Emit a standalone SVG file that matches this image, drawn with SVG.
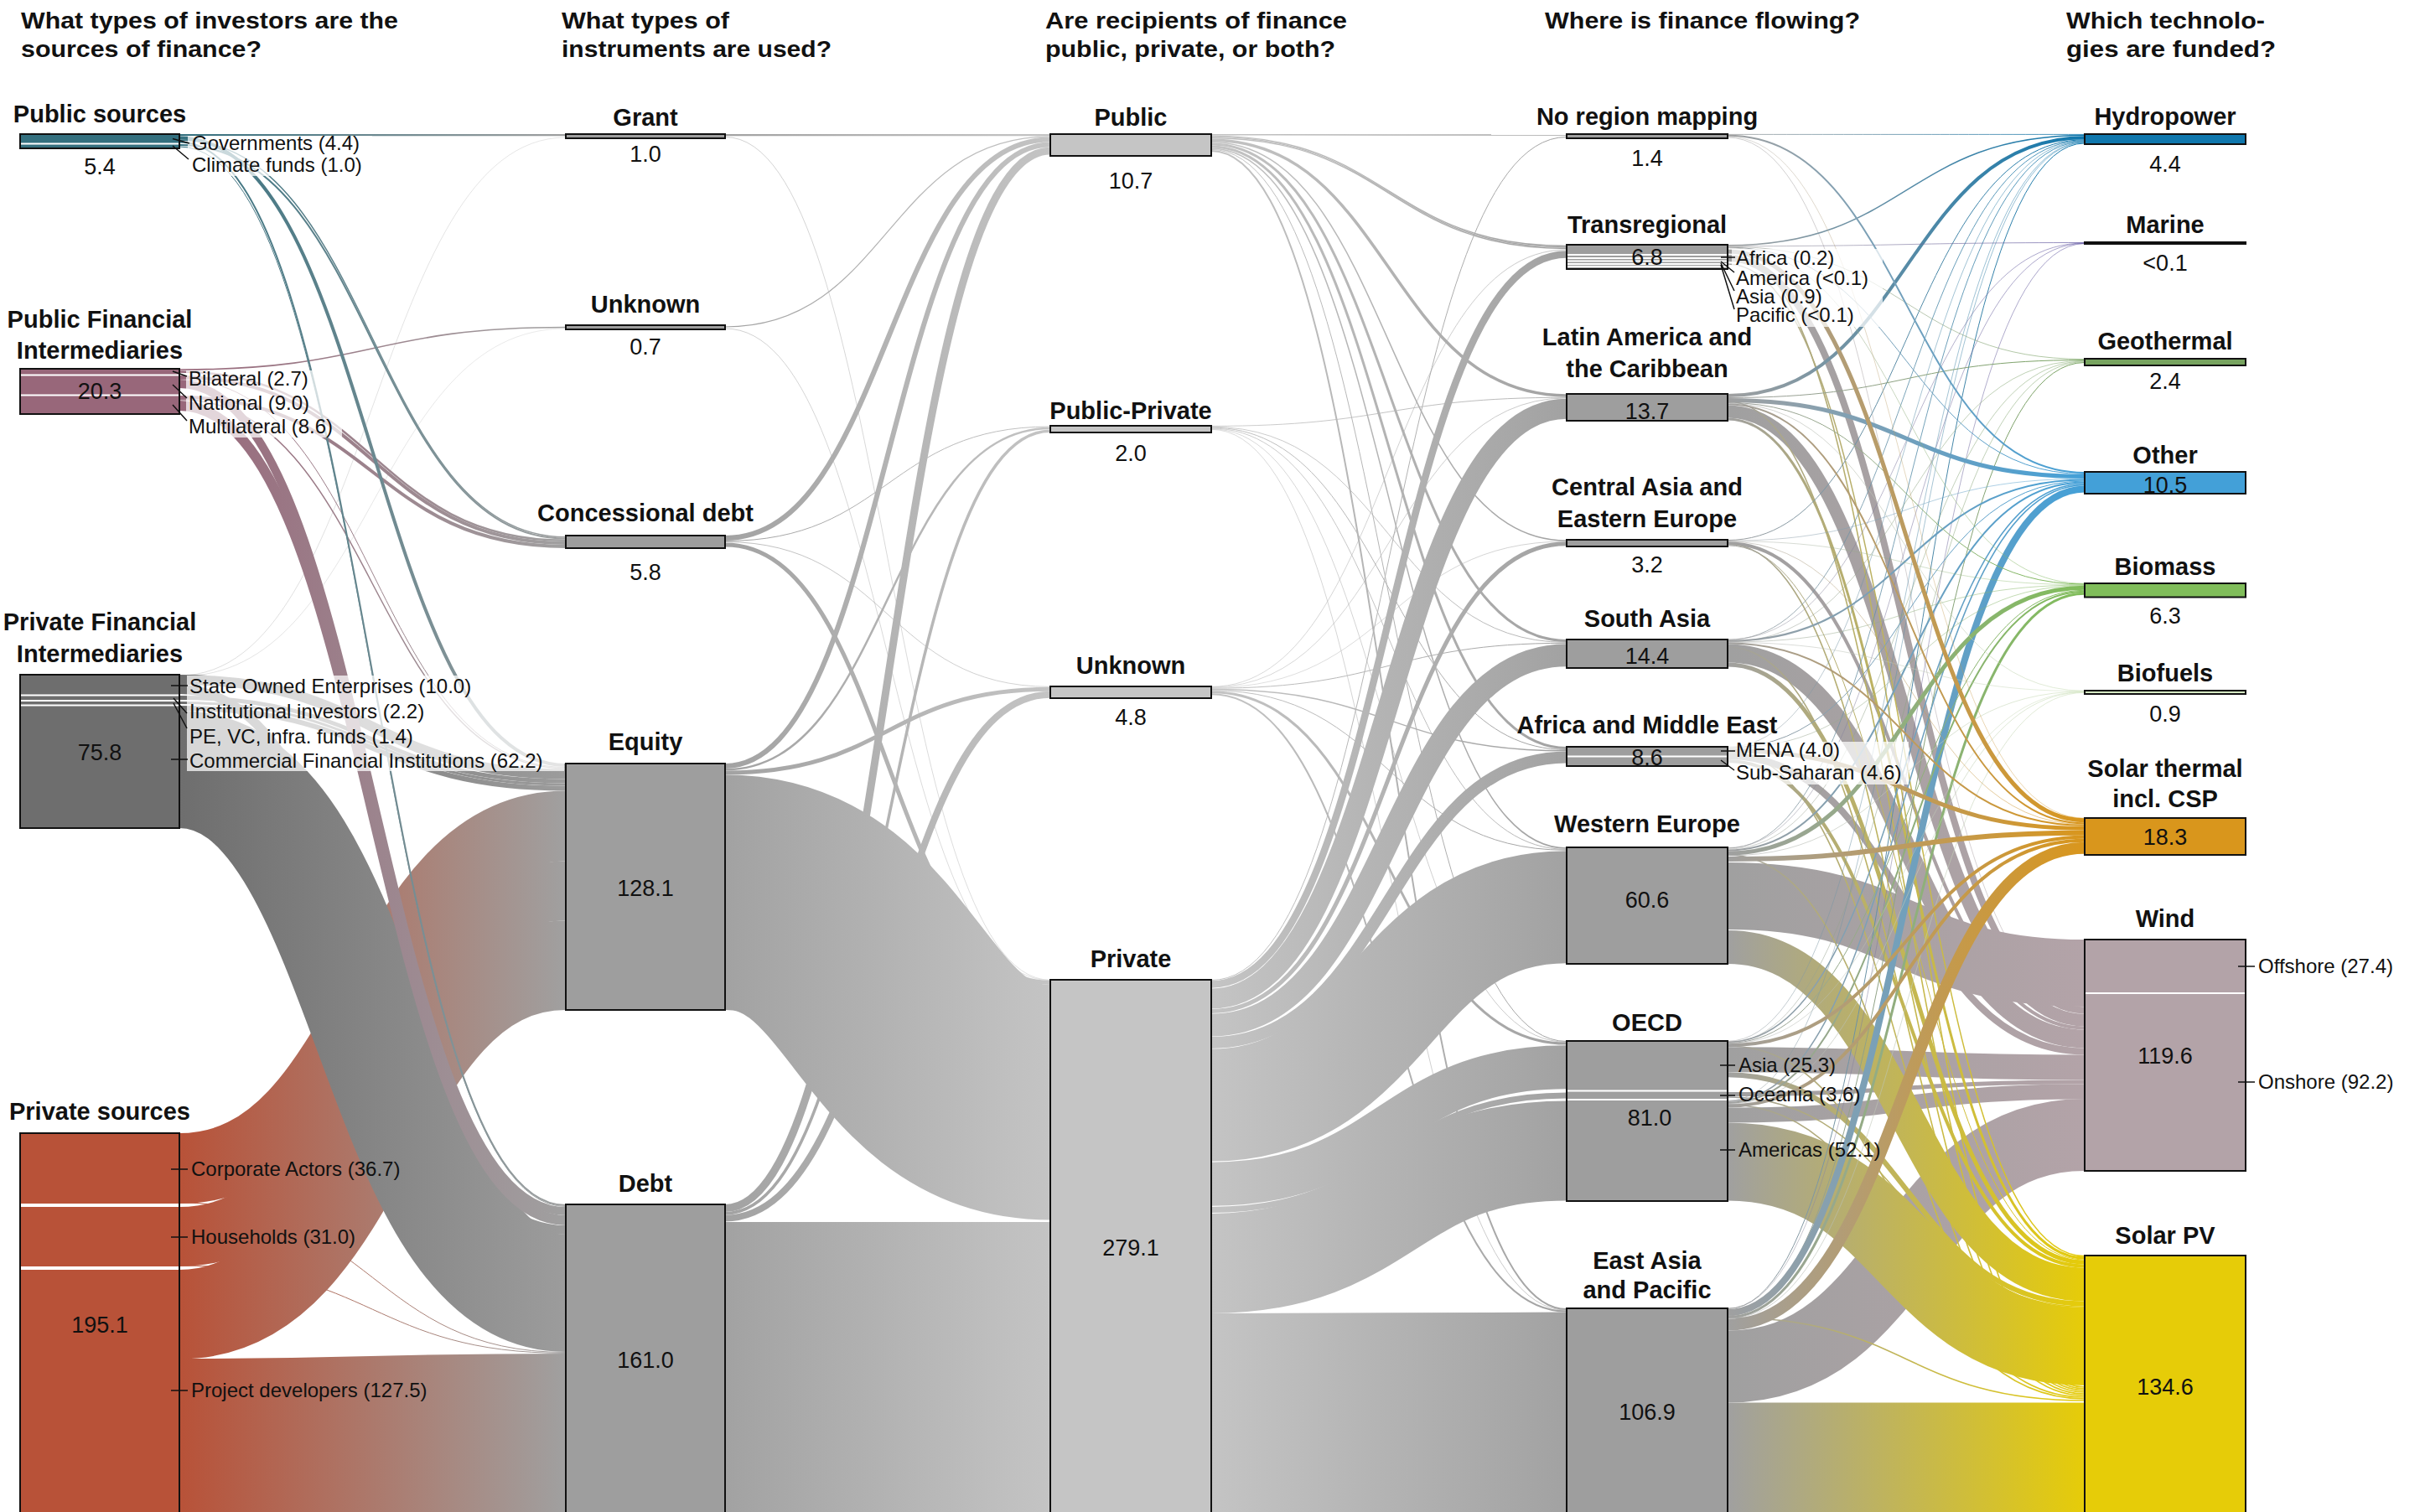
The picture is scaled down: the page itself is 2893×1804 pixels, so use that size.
<svg xmlns="http://www.w3.org/2000/svg" width="2893" height="1804" viewBox="0 0 2893 1804">
<style>
.l{fill:none}
.t{stroke:url(#gT)}.m{stroke:url(#gMv)}.d{stroke:url(#gD)}.r{stroke:url(#gR)}
.k2{stroke:url(#g2)}.k3{stroke:url(#g3)}
.wH{stroke:url(#gH)}.wM{stroke:url(#gM)}.wG{stroke:url(#gG)}.wO{stroke:url(#gO)}.wB{stroke:url(#gB)}.wF{stroke:url(#gF)}.wS{stroke:url(#gS)}.wW{stroke:url(#gW)}.wP{stroke:url(#gP)}
.hdr{font-family:"Liberation Sans",Arial,sans-serif;font-weight:bold;font-size:27px;fill:#111}
.ttl{font-family:"Liberation Sans",Arial,sans-serif;font-weight:bold;font-size:29px;fill:#111;text-anchor:middle}
.val{font-family:"Liberation Sans",Arial,sans-serif;font-size:27px;fill:#111;text-anchor:middle}
.sub{font-family:"Liberation Sans",Arial,sans-serif;font-size:24px;fill:#111}
.box{stroke:#111;stroke-width:2}
.sep{stroke:#fff;stroke-width:2}
.ld{stroke:#111;stroke-width:1.5;fill:none}
.bg{fill:#fff;fill-opacity:.72}
</style>
<defs>
<linearGradient id="gT" gradientUnits="userSpaceOnUse" x1="214" y1="0" x2="675" y2="0"><stop offset="0" stop-color="#34707f"/><stop offset="1" stop-color="#a0a0a0"/></linearGradient>
<linearGradient id="gMv" gradientUnits="userSpaceOnUse" x1="214" y1="0" x2="675" y2="0"><stop offset="0" stop-color="#98677a"/><stop offset="1" stop-color="#a0a0a0"/></linearGradient>
<linearGradient id="gD" gradientUnits="userSpaceOnUse" x1="214" y1="0" x2="675" y2="0"><stop offset="0" stop-color="#6e6e6e"/><stop offset="1" stop-color="#9c9c9c"/></linearGradient>
<linearGradient id="gR" gradientUnits="userSpaceOnUse" x1="214" y1="0" x2="675" y2="0"><stop offset="0" stop-color="#b85238"/><stop offset="1" stop-color="#a0a0a0"/></linearGradient>
<linearGradient id="g2" gradientUnits="userSpaceOnUse" x1="865" y1="0" x2="1253" y2="0"><stop offset="0" stop-color="#a2a2a2"/><stop offset="1" stop-color="#c4c4c4"/></linearGradient>
<linearGradient id="g3" gradientUnits="userSpaceOnUse" x1="1445" y1="0" x2="1869" y2="0"><stop offset="0" stop-color="#c4c4c4"/><stop offset="1" stop-color="#a2a2a2"/></linearGradient>
<linearGradient id="gH" gradientUnits="userSpaceOnUse" x1="2061" y1="0" x2="2487" y2="0"><stop offset="0" stop-color="#a0a0a0"/><stop offset="1" stop-color="#0f77ad"/></linearGradient>
<linearGradient id="gM" gradientUnits="userSpaceOnUse" x1="2061" y1="0" x2="2487" y2="0"><stop offset="0" stop-color="#a0a0a0"/><stop offset="1" stop-color="#4b3f95"/></linearGradient>
<linearGradient id="gG" gradientUnits="userSpaceOnUse" x1="2061" y1="0" x2="2487" y2="0"><stop offset="0" stop-color="#a0a0a0"/><stop offset="1" stop-color="#77a35f"/></linearGradient>
<linearGradient id="gO" gradientUnits="userSpaceOnUse" x1="2061" y1="0" x2="2487" y2="0"><stop offset="0" stop-color="#a0a0a0"/><stop offset="1" stop-color="#43a0d8"/></linearGradient>
<linearGradient id="gB" gradientUnits="userSpaceOnUse" x1="2061" y1="0" x2="2487" y2="0"><stop offset="0" stop-color="#a0a0a0"/><stop offset="1" stop-color="#80bd5a"/></linearGradient>
<linearGradient id="gF" gradientUnits="userSpaceOnUse" x1="2061" y1="0" x2="2487" y2="0"><stop offset="0" stop-color="#b0b0b0"/><stop offset="1" stop-color="#cfe3bd"/></linearGradient>
<linearGradient id="gS" gradientUnits="userSpaceOnUse" x1="2061" y1="0" x2="2487" y2="0"><stop offset="0" stop-color="#a0a0a0"/><stop offset="1" stop-color="#d9961c"/></linearGradient>
<linearGradient id="gW" gradientUnits="userSpaceOnUse" x1="2061" y1="0" x2="2487" y2="0"><stop offset="0" stop-color="#a0a0a0"/><stop offset="1" stop-color="#b3a3a8"/></linearGradient>
<linearGradient id="gP" gradientUnits="userSpaceOnUse" x1="2061" y1="0" x2="2487" y2="0"><stop offset="0" stop-color="#a0a0a0"/><stop offset="1" stop-color="#e6cc08"/></linearGradient>
</defs>
<rect width="2893" height="1804" fill="#fff"/>

<g id="headers">
<text class="hdr" x="25" y="34" textLength="450" lengthAdjust="spacingAndGlyphs">What types of investors are the</text>
<text class="hdr" x="25" y="68" textLength="287" lengthAdjust="spacingAndGlyphs">sources of finance?</text>
<text class="hdr" x="670" y="34" textLength="200" lengthAdjust="spacingAndGlyphs">What types of</text>
<text class="hdr" x="670" y="68" textLength="322" lengthAdjust="spacingAndGlyphs">instruments are used?</text>
<text class="hdr" x="1247" y="34" textLength="360" lengthAdjust="spacingAndGlyphs">Are recipients of finance</text>
<text class="hdr" x="1247" y="68" textLength="346" lengthAdjust="spacingAndGlyphs">public, private, or both?</text>
<text class="hdr" x="1843" y="34" textLength="376" lengthAdjust="spacingAndGlyphs">Where is finance flowing?</text>
<text class="hdr" x="2465" y="34" textLength="237" lengthAdjust="spacingAndGlyphs">Which technolo-</text>
<text class="hdr" x="2465" y="68" textLength="250" lengthAdjust="spacingAndGlyphs">gies are funded?</text>
</g>

<g id="connectors">
<!-- sources to instruments -->
<path class="l r" stroke-width="84" d="M214,1394C444.5,1394 444.5,985.5 675,985.5"/>
<path class="l r" stroke-width="71" d="M214,1475.5C444.5,1475.5 444.5,1063 675,1063"/>
<path class="l r" stroke-width="106.5" d="M214,1568.25C444.5,1568.25 444.5,1151.75 675,1151.75"/>
<path class="l r" stroke-width="192" d="M214,1717C444.5,1717 444.5,1711 675,1711"/>
<path class="l r" stroke-width="1" d="M214,1435C444.5,1435 444.5,1613.5 675,1613.5"/>
<path class="l r" stroke-width="1" d="M214,1510C444.5,1510 444.5,1614.5 675,1614.5"/>
<path class="l d" stroke-width="12" d="M214,811C444.5,811 444.5,923.5 675,923.5"/>
<path class="l d" stroke-width="5" d="M214,832.5C444.5,832.5 444.5,932 675,932"/>
<path class="l d" stroke-width="3" d="M214,838.5C444.5,838.5 444.5,936 675,936"/>
<path class="l d" stroke-width="6" d="M214,845C444.5,845 444.5,940.5 675,940.5"/>
<path class="l d" stroke-width="11" d="M214,822.5C444.5,822.5 444.5,1467.5 675,1467.5"/>
<path class="l d" stroke-width="140" d="M214,918C444.5,918 444.5,1543 675,1543"/>
<path class="l d" stroke-width="0.6" stroke-opacity="0.4" d="M214,806C444.5,806 444.5,164 675,164"/>
<path class="l d" stroke-width="0.5" stroke-opacity="0.4" d="M214,807C444.5,807 444.5,392 675,392"/>
<path class="l m" stroke-width="1.6" d="M214,441C444.5,441 444.5,390.5 675,390.5"/>
<path class="l m" stroke-width="2.5" d="M214,443.5C444.5,443.5 444.5,644.75 675,644.75"/>
<path class="l m" stroke-width="4" d="M214,450C444.5,450 444.5,648 675,648"/>
<path class="l m" stroke-width="1" d="M214,452.5C444.5,452.5 444.5,915.5 675,915.5"/>
<path class="l m" stroke-width="10" d="M214,458C444.5,458 444.5,1445 675,1445"/>
<path class="l m" stroke-width="4" d="M214,474C444.5,474 444.5,652 675,652"/>
<path class="l m" stroke-width="1.5" d="M214,476.75C444.5,476.75 444.5,916.75 675,916.75"/>
<path class="l m" stroke-width="12" d="M214,484C444.5,484 444.5,1456 675,1456"/>
<path class="l t" stroke-width="2.3" d="M214,161.2C444.5,161.2 444.5,161.2 675,161.2"/>
<path class="l t" stroke-width="4" d="M214,164.5C444.5,164.5 444.5,913 675,913"/>
<path class="l t" stroke-width="1.5" d="M214,167.25C444.5,167.25 444.5,640.75 675,640.75"/>
<path class="l t" stroke-width="2" d="M214,169.5C444.5,169.5 444.5,1438 675,1438"/>
<path class="l t" stroke-width="2" d="M214,173C444.5,173 444.5,642.5 675,642.5"/>
<path class="l t" stroke-width="1" d="M214,175C444.5,175 444.5,1439.5 675,1439.5"/>
<!-- instruments to recipients -->
<path class="l k2" stroke-width="280.5" d="M865,1064.75C1059,1064.75 1059,1315.25 1253,1315.25"/>
<path class="l k2" stroke-width="349" d="M865,1632.5C1059,1632.5 1059,1632.5 1253,1632.5"/>
<path class="l k2" stroke-width="2.3" d="M865,161.2C1059,161.2 1059,161.2 1253,161.2"/>
<path class="l k2" stroke-width="0.5" d="M865,163.5C1059,163.5 1059,1169.25 1253,1169.25"/>
<path class="l k2" stroke-width="1.2" d="M865,390C1059,390 1059,162.9 1253,162.9"/>
<path class="l k2" stroke-width="0.5" d="M865,392C1059,392 1059,1169.75 1253,1169.75"/>
<path class="l k2" stroke-width="6" d="M865,642C1059,642 1059,166.5 1253,166.5"/>
<path class="l k2" stroke-width="1" d="M865,645.5C1059,645.5 1059,509 1253,509"/>
<path class="l k2" stroke-width="0.7" d="M865,646.5C1059,646.5 1059,819.35 1253,819.35"/>
<path class="l k2" stroke-width="5" d="M865,650C1059,650 1059,1172.5 1253,1172.5"/>
<path class="l k2" stroke-width="6" d="M865,914C1059,914 1059,172.5 1253,172.5"/>
<path class="l k2" stroke-width="2.5" d="M865,918.25C1059,918.25 1059,511 1253,511"/>
<path class="l k2" stroke-width="5" d="M865,922C1059,922 1059,822.2 1253,822.2"/>
<path class="l k2" stroke-width="9" d="M865,1441.5C1059,1441.5 1059,180 1253,180"/>
<path class="l k2" stroke-width="3.5" d="M865,1447.75C1059,1447.75 1059,514.25 1253,514.25"/>
<path class="l k2" stroke-width="8" d="M865,1453.5C1059,1453.5 1059,828.7 1253,828.7"/>
<!-- recipients to regions -->
<path class="l k3" stroke-width="243" d="M1445,1688.5C1657,1688.5 1657,1687.1 1869,1687.1"/>
<path class="l k3" stroke-width="119" d="M1445,1507.4C1657,1507.4 1657,1373 1869,1373"/>
<path class="l k3" stroke-width="7" d="M1445,1443.4C1657,1443.4 1657,1307 1869,1307"/>
<path class="l k3" stroke-width="52" d="M1445,1412.7C1657,1412.7 1657,1273.3 1869,1273.3"/>
<path class="l k3" stroke-width="134" d="M1445,1318.5C1657,1318.5 1657,1082.3 1869,1082.3"/>
<path class="l k3" stroke-width="14" d="M1445,1244C1657,1244 1657,903.5 1869,903.5"/>
<path class="l k3" stroke-width="27" d="M1445,1223C1657,1223 1657,781.8 1869,781.8"/>
<path class="l k3" stroke-width="5" d="M1445,1206.5C1657,1206.5 1657,648.75 1869,648.75"/>
<path class="l k3" stroke-width="24" d="M1445,1191.5C1657,1191.5 1657,487.7 1869,487.7"/>
<path class="l k3" stroke-width="8.5" d="M1445,1174.5C1657,1174.5 1657,303.5 1869,303.5"/>
<path class="l k3" stroke-width="1" d="M1445,1169.5C1657,1169.5 1657,163.5 1869,163.5"/>
<path class="l k3" stroke-width="1.5" d="M1445,160.75C1657,160.75 1657,161 1869,161"/>
<path class="l k3" stroke-width="1.3" d="M1445,162.15C1657,162.15 1657,293.5 1869,293.5"/>
<path class="l k3" stroke-width="1.3" d="M1445,163.45C1657,163.45 1657,295 1869,295"/>
<path class="l k3" stroke-width="1.3" d="M1445,164.75C1657,164.75 1657,296.5 1869,296.5"/>
<path class="l k3" stroke-width="3.5" d="M1445,167.15C1657,167.15 1657,472 1869,472"/>
<path class="l k3" stroke-width="1.5" d="M1445,169.65C1657,169.65 1657,645 1869,645"/>
<path class="l k3" stroke-width="3" d="M1445,171.9C1657,171.9 1657,764.5 1869,764.5"/>
<path class="l k3" stroke-width="3" d="M1445,174.9C1657,174.9 1657,892.5 1869,892.5"/>
<path class="l k3" stroke-width="1.5" d="M1445,177.15C1657,177.15 1657,1012 1869,1012"/>
<path class="l k3" stroke-width="1" d="M1445,178.4C1657,178.4 1657,1242.5 1869,1242.5"/>
<path class="l k3" stroke-width="2" d="M1445,179.9C1657,179.9 1657,1562 1869,1562"/>
<path class="l k3" stroke-width="0.8" d="M1445,508.4C1657,508.4 1657,474.2 1869,474.2"/>
<path class="l k3" stroke-width="0.8" d="M1445,509.2C1657,509.2 1657,766.4 1869,766.4"/>
<path class="l k3" stroke-width="1" d="M1445,510.1C1657,510.1 1657,894.5 1869,894.5"/>
<path class="l k3" stroke-width="0.8" d="M1445,511C1657,511 1657,1013.4 1869,1013.4"/>
<path class="l k3" stroke-width="0.6" d="M1445,511.7C1657,511.7 1657,1243.3 1869,1243.3"/>
<path class="l k3" stroke-width="0.6" d="M1445,512.3C1657,512.3 1657,1563.3 1869,1563.3"/>
<path class="l k3" stroke-width="0.6" d="M1445,819.3C1657,819.3 1657,298 1869,298"/>
<path class="l k3" stroke-width="0.6" d="M1445,819.9C1657,819.9 1657,474.9 1869,474.9"/>
<path class="l k3" stroke-width="0.5" d="M1445,820.45C1657,820.45 1657,646 1869,646"/>
<path class="l k3" stroke-width="1" d="M1445,821.2C1657,821.2 1657,767.3 1869,767.3"/>
<path class="l k3" stroke-width="1.5" d="M1445,822.45C1657,822.45 1657,895.75 1869,895.75"/>
<path class="l k3" stroke-width="1" d="M1445,823.7C1657,823.7 1657,1014.3 1869,1014.3"/>
<path class="l k3" stroke-width="3" d="M1445,825.7C1657,825.7 1657,1245.1 1869,1245.1"/>
<path class="l k3" stroke-width="2" d="M1445,828.2C1657,828.2 1657,1564.6 1869,1564.6"/>
<!-- regions to technologies: wind -->
<path class="l wW" stroke-width="80" d="M2061,1069C2274,1069 2274,1161 2487,1161"/>
<path class="l wW" stroke-width="0.5" d="M2061,164C2274,164 2274,1201.25 2487,1201.25"/>
<path class="l wW" stroke-width="8" d="M2061,308C2274,308 2274,1205.5 2487,1205.5"/>
<path class="l wW" stroke-width="15" d="M2061,491C2274,491 2274,1217 2487,1217"/>
<path class="l wW" stroke-width="4" d="M2061,648.3C2274,648.3 2274,1226.5 2487,1226.5"/>
<path class="l wW" stroke-width="22" d="M2061,779.6C2274,779.6 2274,1239.5 2487,1239.5"/>
<path class="l wW" stroke-width="8" d="M2061,902C2274,902 2274,1254.5 2487,1254.5"/>
<path class="l wW" stroke-width="30" d="M2061,1264.3C2274,1264.3 2274,1273.5 2487,1273.5"/>
<path class="l wW" stroke-width="5" d="M2061,1305.5C2274,1305.5 2274,1291 2487,1291"/>
<path class="l wW" stroke-width="18" d="M2061,1330.5C2274,1330.5 2274,1302.5 2487,1302.5"/>
<path class="l wW" stroke-width="86" d="M2061,1630.5C2274,1630.5 2274,1354 2487,1354"/>
<!-- solar PV -->
<path class="l wP" stroke-width="133.5" d="M2061,1740.25C2274,1740.25 2274,1740.25 2487,1740.25"/>
<path class="l wP" stroke-width="1.5" d="M2061,315C2274,315 2274,1498.75 2487,1498.75"/>
<path class="l wP" stroke-width="3" d="M2061,500C2274,500 2274,1501 2487,1501"/>
<path class="l wP" stroke-width="1" d="M2061,650.8C2274,650.8 2274,1503 2487,1503"/>
<path class="l wP" stroke-width="5" d="M2061,793.1C2274,793.1 2274,1506 2487,1506"/>
<path class="l wP" stroke-width="4" d="M2061,908C2274,908 2274,1510.5 2487,1510.5"/>
<path class="l wP" stroke-width="6" d="M2061,1282.3C2274,1282.3 2274,1555.5 2487,1555.5"/>
<path class="l wP" stroke-width="1.5" d="M2061,1309C2274,1309 2274,1559.25 2487,1559.25"/>
<path class="l wP" stroke-width="93" d="M2061,1386C2274,1386 2274,1606.5 2487,1606.5"/>
<path class="l wP" stroke-width="40" d="M2061,1130C2274,1130 2274,1532.5 2487,1532.5"/>
<path class="l wP" stroke-width="1.6" d="M2061,299C2274,299 2274,1655 2487,1655"/>
<path class="l wP" stroke-width="1.6" d="M2061,479C2274,479 2274,1657 2487,1657"/>
<path class="l wP" stroke-width="1.6" d="M2061,649C2274,649 2274,1659 2487,1659"/>
<path class="l wP" stroke-width="1.6" d="M2061,772C2274,772 2274,1661 2487,1661"/>
<path class="l wP" stroke-width="1.6" d="M2061,897C2274,897 2274,1663 2487,1663"/>
<path class="l wP" stroke-width="1.6" d="M2061,1020C2274,1020 2274,1665 2487,1665"/>
<path class="l wP" stroke-width="1.6" d="M2061,1248C2274,1248 2274,1667 2487,1667"/>
<path class="l wP" stroke-width="1.6" d="M2061,1318C2274,1318 2274,1669 2487,1669"/>
<path class="l wP" stroke-width="1.6" d="M2061,1572C2274,1572 2274,1671 2487,1671"/>
<!-- hydropower -->
<path class="l wH" stroke-width="0.8" d="M2061,160.4C2274,160.4 2274,160.4 2487,160.4"/>
<path class="l wH" stroke-width="1.5" d="M2061,292.75C2274,292.75 2274,161.55 2487,161.55"/>
<path class="l wH" stroke-width="4" d="M2061,472C2274,472 2274,164.3 2487,164.3"/>
<path class="l wH" stroke-width="1" d="M2061,644.5C2274,644.5 2274,166.8 2487,166.8"/>
<path class="l wH" stroke-width="0.8" d="M2061,763.4C2274,763.4 2274,167.7 2487,167.7"/>
<path class="l wH" stroke-width="0.5" d="M2061,891.25C2274,891.25 2274,168.35 2487,168.35"/>
<path class="l wH" stroke-width="0.8" d="M2061,1012C2274,1012 2274,169 2487,169"/>
<path class="l wH" stroke-width="0.5" d="M2061,1242.25C2274,1242.25 2274,169.65 2487,169.65"/>
<path class="l wH" stroke-width="0.5" d="M2061,1313.25C2274,1313.25 2274,170.15 2487,170.15"/>
<path class="l wH" stroke-width="1" d="M2061,1561.5C2274,1561.5 2274,170.9 2487,170.9"/>
<!-- marine -->
<path class="l wM" stroke-width="0.6" d="M2061,293.75C2274,293.75 2274,289.5 2487,289.5"/>
<path class="l wM" stroke-width="0.5" d="M2061,763C2274,763 2274,290 2487,290"/>
<path class="l wM" stroke-width="0.5" d="M2061,1011.5C2274,1011.5 2274,290.3 2487,290.3"/>
<path class="l wM" stroke-width="0.5" d="M2061,1561C2274,1561 2274,290.6 2487,290.6"/>
<!-- geothermal -->
<path class="l wG" stroke-width="0.6" d="M2061,294.25C2274,294.25 2274,428.5 2487,428.5"/>
<path class="l wG" stroke-width="1" d="M2061,474.5C2274,474.5 2274,429.5 2487,429.5"/>
<path class="l wG" stroke-width="0.5" d="M2061,766C2274,766 2274,430.3 2487,430.3"/>
<path class="l wG" stroke-width="0.5" d="M2061,1013C2274,1013 2274,431 2487,431"/>
<path class="l wG" stroke-width="0.5" d="M2061,1244C2274,1244 2274,431.6 2487,431.6"/>
<path class="l wG" stroke-width="1" d="M2061,1570C2274,1570 2274,432.5 2487,432.5"/>
<!-- other -->
<path class="l wO" stroke-width="2" d="M2061,161.8C2274,161.8 2274,564 2487,564"/>
<path class="l wO" stroke-width="1" d="M2061,295C2274,295 2274,565.5 2487,565.5"/>
<path class="l wO" stroke-width="5" d="M2061,477.5C2274,477.5 2274,568.5 2487,568.5"/>
<path class="l wO" stroke-width="0.5" d="M2061,645.25C2274,645.25 2274,571.25 2487,571.25"/>
<path class="l wO" stroke-width="2" d="M2061,764.8C2274,764.8 2274,572.5 2487,572.5"/>
<path class="l wO" stroke-width="1" d="M2061,892C2274,892 2274,574 2487,574"/>
<path class="l wO" stroke-width="2" d="M2061,1014.5C2274,1014.5 2274,575.5 2487,575.5"/>
<path class="l wO" stroke-width="1.5" d="M2061,1243.25C2274,1243.25 2274,577.25 2487,577.25"/>
<path class="l wO" stroke-width="1.5" d="M2061,1314.25C2274,1314.25 2274,578.75 2487,578.75"/>
<path class="l wO" stroke-width="8" d="M2061,1566C2274,1566 2274,583.5 2487,583.5"/>
<!-- biomass -->
<path class="l wB" stroke-width="0.5" d="M2061,295.75C2274,295.75 2274,696.25 2487,696.25"/>
<path class="l wB" stroke-width="1" d="M2061,480.5C2274,480.5 2274,697 2487,697"/>
<path class="l wB" stroke-width="0.4" d="M2061,645.65C2274,645.65 2274,697.65 2487,697.65"/>
<path class="l wB" stroke-width="0.5" d="M2061,766.05C2274,766.05 2274,698.05 2487,698.05"/>
<path class="l wB" stroke-width="0.5" d="M2061,892.75C2274,892.75 2274,698.55 2487,698.55"/>
<path class="l wB" stroke-width="5" d="M2061,1018C2274,1018 2274,701.3 2487,701.3"/>
<path class="l wB" stroke-width="1" d="M2061,1244.5C2274,1244.5 2274,704.3 2487,704.3"/>
<path class="l wB" stroke-width="2" d="M2061,1316C2274,1316 2274,705.8 2487,705.8"/>
<path class="l wB" stroke-width="3" d="M2061,1571.5C2274,1571.5 2274,708.3 2487,708.3"/>
<!-- biofuels -->
<path class="l wF" stroke-width="0.6" d="M2061,481.25C2274,481.25 2274,824.25 2487,824.25"/>
<path class="l wF" stroke-width="0.5" d="M2061,766.45C2274,766.45 2274,824.65 2487,824.65"/>
<path class="l wF" stroke-width="0.6" d="M2061,1021C2274,1021 2274,825 2487,825"/>
<path class="l wF" stroke-width="0.5" d="M2061,1245.15C2274,1245.15 2274,825.4 2487,825.4"/>
<path class="l wF" stroke-width="0.6" d="M2061,1317.25C2274,1317.25 2274,825.8 2487,825.8"/>
<path class="l wF" stroke-width="0.6" d="M2061,1573.25C2274,1573.25 2274,826.3 2487,826.3"/>
<!-- solar thermal -->
<path class="l wS" stroke-width="0.4" d="M2061,163C2274,163 2274,976.15 2487,976.15"/>
<path class="l wS" stroke-width="5" d="M2061,300C2274,300 2274,978.8 2487,978.8"/>
<path class="l wS" stroke-width="2" d="M2061,482.5C2274,482.5 2274,982.3 2487,982.3"/>
<path class="l wS" stroke-width="0.5" d="M2061,646.05C2274,646.05 2274,983.55 2487,983.55"/>
<path class="l wS" stroke-width="2" d="M2061,767.6C2274,767.6 2274,984.8 2487,984.8"/>
<path class="l wS" stroke-width="5" d="M2061,895.5C2274,895.5 2274,988.3 2487,988.3"/>
<path class="l wS" stroke-width="6" d="M2061,1025C2274,1025 2274,993.8 2487,993.8"/>
<path class="l wS" stroke-width="4" d="M2061,1247.3C2274,1247.3 2274,998.8 2487,998.8"/>
<path class="l wS" stroke-width="4" d="M2061,1319.5C2274,1319.5 2274,1002.8 2487,1002.8"/>
<path class="l wS" stroke-width="14" d="M2061,1580.5C2274,1580.5 2274,1011.8 2487,1011.8"/>
</g>

<g id="label-backgrounds">
<rect class="bg" x="224" y="162" width="220" height="48"/>
<rect class="bg" x="222" y="442" width="186" height="80"/>
<rect class="bg" x="223" y="806" width="450" height="114"/>
<rect class="bg" x="2066" y="297" width="180" height="93"/>
<rect class="bg" x="2059" y="885" width="218" height="51"/>
</g>

<g id="public-sources">
<rect class="box" x="24" y="160" width="190" height="17" fill="#34707f"/>
<line class="sep" x1="25" y1="171.5" x2="213" y2="171.5"/>
<text class="ttl" x="119" y="146">Public sources</text>
<text class="val" x="119" y="208">5.4</text>
<path class="ld" d="M206,165.5L226,171M206,174L225,190"/>
<text class="sub" x="229" y="179">Governments (4.4)</text>
<text class="sub" x="229" y="205">Climate funds (1.0)</text>
</g>
<g id="public-financial-intermediaries">
<rect class="box" x="24" y="440" width="190" height="54" fill="#98677a"/>
<line class="sep" x1="25" y1="447.5" x2="213" y2="447.5"/>
<line class="sep" x1="25" y1="471.5" x2="213" y2="471.5"/>
<text class="ttl" x="119" y="391">Public Financial</text>
<text class="ttl" x="119" y="428">Intermediaries</text>
<text class="val" x="119" y="476">20.3</text>
<path class="ld" d="M206,443L223,449M206,459L223,475M206,483L223,502"/>
<text class="sub" x="225" y="460">Bilateral (2.7)</text>
<text class="sub" x="225" y="489">National (9.0)</text>
<text class="sub" x="225" y="517">Multilateral (8.6)</text>
</g>
<g id="private-financial-intermediaries">
<rect class="box" x="24" y="805" width="190" height="183" fill="#6e6e6e"/>
<line class="sep" x1="25" y1="829.5" x2="213" y2="829.5"/>
<line class="sep" x1="25" y1="836" x2="213" y2="836"/>
<line class="sep" x1="25" y1="841.5" x2="213" y2="841.5"/>
<text class="ttl" x="119" y="752">Private Financial</text>
<text class="ttl" x="119" y="790">Intermediaries</text>
<text class="val" x="119" y="907">75.8</text>
<path class="ld" d="M204,818H224M207,833L223,851M207,839L223,869M204,906H224"/>
<text class="sub" x="226" y="827">State Owned Enterprises (10.0)</text>
<text class="sub" x="226" y="857">Institutional investors (2.2)</text>
<text class="sub" x="226" y="887">PE, VC, infra. funds (1.4)</text>
<text class="sub" x="226" y="916">Commercial Financial Institutions (62.2)</text>
</g>
<g id="private-sources">
<rect class="box" x="24" y="1352" width="190" height="460" fill="#b85238"/>
<line x1="25" y1="1438" x2="213" y2="1438" stroke="#fff" stroke-width="4"/>
<line x1="25" y1="1513" x2="213" y2="1513" stroke="#fff" stroke-width="4"/>
<text class="ttl" x="119" y="1336">Private sources</text>
<text class="val" x="119" y="1590">195.1</text>
<path class="ld" d="M204,1395H224M204,1476H224M204,1659H224"/>
<text class="sub" x="228" y="1403">Corporate Actors (36.7)</text>
<text class="sub" x="228" y="1484">Households (31.0)</text>
<text class="sub" x="228" y="1667">Project developers (127.5)</text>
</g>

<g id="grant"><rect class="box" x="675" y="160" width="190" height="5" fill="#9e9e9e"/><text class="ttl" x="770" y="150">Grant</text><text class="val" x="770" y="193">1.0</text></g>
<g id="unknown-instrument"><rect class="box" x="675" y="388" width="190" height="5" fill="#9e9e9e"/><text class="ttl" x="770" y="373">Unknown</text><text class="val" x="770" y="423">0.7</text></g>
<g id="concessional-debt"><rect class="box" x="675" y="639" width="190" height="15" fill="#9e9e9e"/><text class="ttl" x="770" y="622">Concessional debt</text><text class="val" x="770" y="692">5.8</text></g>
<g id="equity"><rect class="box" x="675" y="911" width="190" height="294" fill="#9e9e9e"/><text class="ttl" x="770" y="895">Equity</text><text class="val" x="770" y="1069">128.1</text></g>
<g id="debt"><rect class="box" x="675" y="1437" width="190" height="375" fill="#9e9e9e"/><text class="ttl" x="770" y="1422">Debt</text><text class="val" x="770" y="1632">161.0</text></g>

<g id="public"><rect class="box" x="1253" y="160" width="192" height="26" fill="#c5c5c5"/><text class="ttl" x="1349" y="150">Public</text><text class="val" x="1349" y="225">10.7</text></g>
<g id="public-private"><rect class="box" x="1253" y="508" width="192" height="8" fill="#c5c5c5"/><text class="ttl" x="1349" y="500">Public-Private</text><text class="val" x="1349" y="550">2.0</text></g>
<g id="unknown-recipient"><rect class="box" x="1253" y="819" width="192" height="14" fill="#c5c5c5"/><text class="ttl" x="1349" y="804">Unknown</text><text class="val" x="1349" y="865">4.8</text></g>
<g id="private"><rect class="box" x="1253" y="1169" width="192" height="643" fill="#c5c5c5"/><text class="ttl" x="1349" y="1154">Private</text><text class="val" x="1349" y="1498">279.1</text></g>

<g id="no-region"><rect class="box" x="1869" y="160" width="192" height="5" fill="#9e9e9e"/><text class="ttl" x="1965" y="149">No region mapping</text><text class="val" x="1965" y="198">1.4</text></g>
<g id="transregional">
<rect class="box" x="1869" y="292" width="192" height="29" fill="#9e9e9e"/>
<line class="sep" x1="1870" y1="304" x2="2060" y2="304"/><line class="sep" x1="1870" y1="308" x2="2060" y2="308"/><line class="sep" x1="1870" y1="311.5" x2="2060" y2="311.5"/><line class="sep" x1="1870" y1="315" x2="2060" y2="315"/><line class="sep" x1="1870" y1="318" x2="2060" y2="318"/>
<text class="val" x="1965" y="316">6.8</text>
<text class="ttl" x="1965" y="278">Transregional</text>
<path class="ld" d="M2053,307H2070M2053,312L2069,325M2053,314L2069,347M2053,316L2069,369"/>
<text class="sub" x="2071" y="316">Africa (0.2)</text>
<text class="sub" x="2071" y="340">America (&lt;0.1)</text>
<text class="sub" x="2071" y="362">Asia (0.9)</text>
<text class="sub" x="2071" y="384">Pacific (&lt;0.1)</text>
</g>
<g id="latin-america"><rect class="box" x="1869" y="470" width="192" height="32" fill="#9e9e9e"/><text class="ttl" x="1965" y="412">Latin America and</text><text class="ttl" x="1965" y="450">the Caribbean</text><text class="val" x="1965" y="500">13.7</text></g>
<g id="central-asia"><rect class="box" x="1869" y="644" width="192" height="8" fill="#9e9e9e"/><text class="ttl" x="1965" y="591">Central Asia and</text><text class="ttl" x="1965" y="629">Eastern Europe</text><text class="val" x="1965" y="683">3.2</text></g>
<g id="south-asia"><rect class="box" x="1869" y="763" width="192" height="34" fill="#9e9e9e"/><text class="ttl" x="1965" y="748">South Asia</text><text class="val" x="1965" y="792">14.4</text></g>
<g id="africa-middle-east">
<rect class="box" x="1869" y="891" width="192" height="23" fill="#9e9e9e"/>
<line class="sep" x1="1870" y1="902.5" x2="2060" y2="902.5"/>
<text class="ttl" x="1965" y="875">Africa and Middle East</text>
<text class="val" x="1965" y="913">8.6</text>
<path class="ld" d="M2053,896H2070M2053,907L2069,919"/>
<text class="sub" x="2071" y="903">MENA (4.0)</text>
<text class="sub" x="2071" y="930">Sub-Saharan (4.6)</text>
</g>
<g id="western-europe"><rect class="box" x="1869" y="1011" width="192" height="139" fill="#9e9e9e"/><text class="ttl" x="1965" y="993">Western Europe</text><text class="val" x="1965" y="1083">60.6</text></g>
<g id="oecd">
<rect class="box" x="1869" y="1242" width="192" height="191" fill="#9e9e9e"/>
<line class="sep" x1="1870" y1="1301.5" x2="2060" y2="1301.5"/><line class="sep" x1="1870" y1="1312" x2="2060" y2="1312"/>
<text class="ttl" x="1965" y="1230">OECD</text>
<text class="val" x="1968" y="1343">81.0</text>
<path class="ld" d="M2052,1271H2070M2052,1307H2070M2052,1372H2070"/>
<text class="sub" x="2074" y="1279">Asia (25.3)</text>
<text class="sub" x="2074" y="1314">Oceania (3.6)</text>
<text class="sub" x="2074" y="1380">Americas (52.1)</text>
</g>
<g id="east-asia"><rect class="box" x="1869" y="1561" width="192" height="251" fill="#9e9e9e"/><text class="ttl" x="1965" y="1514">East Asia</text><text class="ttl" x="1965" y="1549">and Pacific</text><text class="val" x="1965" y="1694">106.9</text></g>

<g id="hydropower"><rect class="box" x="2487" y="160" width="192" height="12" fill="#0f77ad"/><text class="ttl" x="2583" y="149">Hydropower</text><text class="val" x="2583" y="205">4.4</text></g>
<g id="marine"><rect class="box" x="2487" y="289" width="192" height="2" fill="#111"/><text class="ttl" x="2583" y="278">Marine</text><text class="val" x="2583" y="323">&lt;0.1</text></g>
<g id="geothermal"><rect class="box" x="2487" y="428" width="192" height="8" fill="#77a35f"/><text class="ttl" x="2583" y="417">Geothermal</text><text class="val" x="2583" y="464">2.4</text></g>
<g id="other"><rect class="box" x="2487" y="563" width="192" height="26" fill="#43a0d8"/><text class="ttl" x="2583" y="553">Other</text><text class="val" x="2583" y="588">10.5</text></g>
<g id="biomass"><rect class="box" x="2487" y="696" width="192" height="16.5" fill="#80bd5a"/><text class="ttl" x="2583" y="686">Biomass</text><text class="val" x="2583" y="744">6.3</text></g>
<g id="biofuels"><rect class="box" x="2487" y="824" width="192" height="4" fill="#d5e8c2"/><text class="ttl" x="2583" y="813">Biofuels</text><text class="val" x="2583" y="861">0.9</text></g>
<g id="solar-thermal"><rect class="box" x="2487" y="976" width="192" height="44" fill="#d9961c"/><text class="ttl" x="2583" y="927">Solar thermal</text><text class="ttl" x="2583" y="963">incl. CSP</text><text class="val" x="2583" y="1008">18.3</text></g>
<g id="wind">
<rect class="box" x="2487" y="1121" width="192" height="276" fill="#b3a3a8"/>
<line class="sep" x1="2488" y1="1185" x2="2678" y2="1185"/>
<text class="ttl" x="2583" y="1106">Wind</text>
<text class="val" x="2583" y="1269">119.6</text>
<path class="ld" d="M2670,1153H2690M2670,1291H2690"/>
<text class="sub" x="2694" y="1161">Offshore (27.4)</text>
<text class="sub" x="2694" y="1299">Onshore (92.2)</text>
</g>
<g id="solar-pv"><rect class="box" x="2487" y="1498" width="192" height="314" fill="#e6cc08"/><text class="ttl" x="2583" y="1484">Solar PV</text><text class="val" x="2583" y="1664">134.6</text></g>
</svg>
